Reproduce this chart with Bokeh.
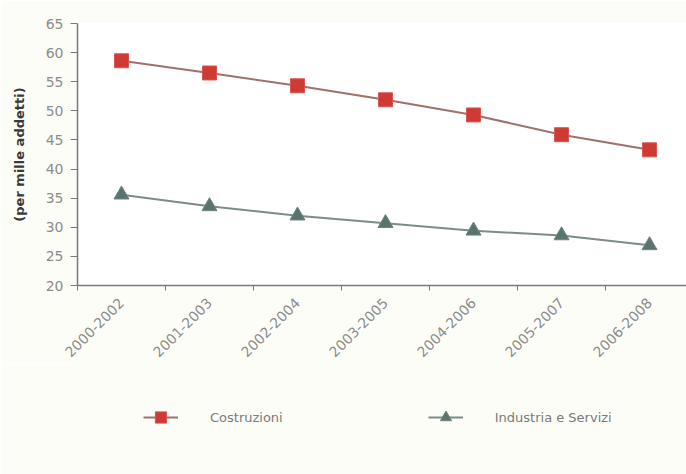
import math
from bokeh.plotting import figure
from bokeh.layouts import column
from bokeh.models import Range1d, FixedTicker, Legend, LegendItem
from bokeh.embed import file_html
from bokeh.resources import INLINE

# Three-year periods and injury rates (per thousand workers)
periods = ["2000-2002", "2001-2003", "2002-2004", "2003-2005",
           "2004-2006", "2005-2007", "2006-2008"]
costruzioni = [58.6, 56.5, 54.3, 51.9, 49.3, 45.9, 43.3]
industria_servizi = [35.6, 33.6, 32.0, 30.7, 29.4, 28.6, 26.9]
y_ticks = [20, 25, 30, 35, 40, 45, 50, 55, 60, 65]
series_names = ["Costruzioni", "Industria e Servizi"]

# each period sits in the middle of its own unit-wide slot
xpos = [i + 0.5 for i in range(len(periods))]

FONT = "DejaVu Sans"
AXIS_GREY = "#7a7a7a"
LABEL_GREY = "#8c8c8c"
BG = "#fdfdf8"

# series styles: (line colour, marker, marker fill, marker outline, size)
STYLES = [("#a0706c", "square", "#cf3b34", "#d8564f", 14),
          ("#7d8b89", "triangle", "#5b736f", "#6d8380", 15)]

p = figure(width=686, height=364, output_backend="svg", toolbar_location=None,
           title=None,
           x_range=Range1d(0, 6.92), y_range=Range1d(20, 65),
           min_border_left=77, min_border_right=0,
           min_border_top=23, min_border_bottom=79,
           background_fill_color="#ffffff", border_fill_color=BG,
           outline_line_color=None)

p.xgrid.grid_line_color = None
p.ygrid.grid_line_color = None

# x axis: labels at slot centres, tick marks on slot boundaries
xa = p.xaxis[0]
xa.ticker = FixedTicker(ticks=xpos, minor_ticks=list(range(len(periods) + 1)))
xa.major_label_overrides = {x: lab for x, lab in zip(xpos, periods)}
xa.major_tick_out = 0
xa.major_tick_in = 0
xa.minor_tick_out = 5
xa.minor_tick_in = 0
xa.minor_tick_line_color = AXIS_GREY
xa.axis_line_color = AXIS_GREY
xa.axis_line_width = 1.5
xa.major_label_orientation = math.pi / 4
xa.major_label_standoff = 10
xa.major_label_text_font = FONT
xa.major_label_text_font_size = "14px"
xa.major_label_text_color = LABEL_GREY

ya = p.yaxis[0]
ya.ticker = FixedTicker(ticks=y_ticks)
ya.minor_tick_line_color = None
ya.major_tick_out = 7
ya.major_tick_in = 0
ya.major_tick_line_color = AXIS_GREY
ya.axis_line_color = AXIS_GREY
ya.axis_line_width = 1.5
ya.major_label_standoff = 7
ya.major_label_text_font = FONT
ya.major_label_text_font_size = "14px"
ya.major_label_text_color = LABEL_GREY
ya.axis_label = "(per mille addetti)"
ya.axis_label_text_font = FONT
ya.axis_label_text_font_style = "bold"
ya.axis_label_text_font_size = "13px"
ya.axis_label_text_color = "#3a3a3a"
ya.axis_label_standoff = 16

for values, (lc, mk, fc, oc, sz) in zip([costruzioni, industria_servizi], STYLES):
    p.line(xpos, values, line_color=lc, line_width=2)
    p.scatter(xpos, values, marker=mk, size=sz,
              fill_color=fc, line_color=oc, line_width=1)

# legend strip underneath the chart; its ranges keep the series out of view
# so only the legend entries show
lg = figure(width=686, height=110, output_backend="svg", toolbar_location=None,
            title=None, x_axis_type=None, y_axis_type=None,
            x_range=Range1d(-2, -1), y_range=Range1d(-2, -1),
            min_border=0, outline_line_color=None,
            background_fill_color=BG, border_fill_color=BG)
lg.xgrid.grid_line_color = None
lg.ygrid.grid_line_color = None

items = []
for name, values, (lc, mk, fc, oc, sz) in zip(series_names,
                                              [costruzioni, industria_servizi],
                                              STYLES):
    r_line = lg.line(xpos, values, line_color=lc, line_width=2)
    r_mark = lg.scatter(xpos, values, marker=mk, size=sz,
                        fill_color=fc, line_color=oc, line_width=1)
    items.append(LegendItem(label=name, renderers=[r_line, r_mark]))

legend = Legend(items=items, orientation="horizontal", location=(66, 43),
                glyph_width=35, glyph_height=28, label_standoff=32,
                spacing=145, padding=0, margin=0,
                label_text_font=FONT, label_text_font_size="13px",
                label_text_color="#7a7a7a",
                background_fill_alpha=0, border_line_color=None)
lg.add_layout(legend)

layout = column(p, lg, spacing=0)
open("out.html", "w").write(file_html(layout, INLINE))
